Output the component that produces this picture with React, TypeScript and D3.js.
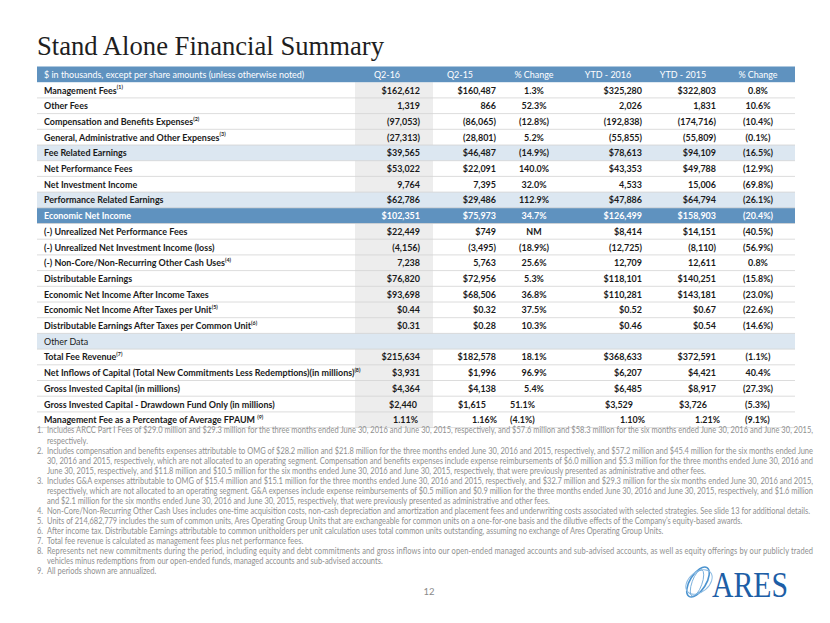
import React from 'react';
import * as d3 from 'd3';

const titleText = 'Stand Alone Financial Summary';
const headerLabel = '$ in thousands, except per share amounts (unless otherwise noted)';
const columnLabels = ['Q2-16', 'Q2-15', '% Change', 'YTD - 2016', 'YTD - 2015', '% Change'];

const rowLabels = [
  'Management Fees',
  'Other Fees',
  'Compensation and Benefits Expenses',
  'General, Administrative and Other Expenses',
  'Fee Related Earnings',
  'Net Performance Fees',
  'Net Investment Income',
  'Performance Related Earnings',
  'Economic Net Income',
  '(-) Unrealized Net Performance Fees',
  '(-) Unrealized Net Investment Income (loss)',
  '(-) Non-Core/Non-Recurring Other Cash Uses',
  'Distributable Earnings',
  'Economic Net Income After Income Taxes',
  'Economic Net Income After Taxes per Unit',
  'Distributable Earnings After Taxes per Common Unit',
  'Other Data',
  'Total Fee Revenue',
  'Net Inflows of Capital (Total New Commitments Less Redemptions)(in millions)',
  'Gross Invested Capital (in millions)',
  'Gross Invested Capital - Drawdown Fund Only (in millions)',
  'Management Fee as a Percentage of Average FPAUM ',
];
const rowNotes = ['1', '', '2', '3', '', '', '', '', '', '', '', '4', '', '', '5', '6', '', '7', '8', '', '', '9'];
const rowKinds = [
  'normal', 'normal', 'normal', 'normal', 'band', 'normal', 'normal', 'band', 'total',
  'normal', 'normal', 'normal', 'normal', 'normal', 'normal', 'normal', 'section',
  'normal', 'normal', 'normal', 'normal', 'normal',
];

const q216 = ['$162,612', '1,319', '(97,053)', '(27,313)', '$39,565', '$53,022', '9,764', '$62,786', '$102,351', '$22,449', '(4,156)', '7,238', '$76,820', '$93,698', '$0.44', '$0.31', '', '$215,634', '$3,931', '$4,364', '$2,440', '1.11%'];
const q215 = ['$160,487', '866', '(86,065)', '(28,801)', '$46,487', '$22,091', '7,395', '$29,486', '$75,973', '$749', '(3,495)', '5,763', '$72,956', '$68,506', '$0.32', '$0.28', '', '$182,578', '$1,996', '$4,138', '$1,615', '1.16%'];
const qChange = ['1.3%', '52.3%', '(12.8%)', '5.2%', '(14.9%)', '140.0%', '32.0%', '112.9%', '34.7%', 'NM', '(18.9%)', '25.6%', '5.3%', '36.8%', '37.5%', '10.3%', '', '18.1%', '96.9%', '5.4%', '51.1%', '(4.1%)'];
const ytd16 = ['$325,280', '2,026', '(192,838)', '(55,855)', '$78,613', '$43,353', '4,533', '$47,886', '$126,499', '$8,414', '(12,725)', '12,709', '$118,101', '$110,281', '$0.52', '$0.46', '', '$368,633', '$6,207', '$6,485', '$3,529', '1.10%'];
const ytd15 = ['$322,803', '1,831', '(174,716)', '(55,809)', '$94,109', '$49,788', '15,006', '$64,794', '$158,903', '$14,151', '(8,110)', '12,611', '$140,251', '$143,181', '$0.67', '$0.54', '', '$372,591', '$4,421', '$8,917', '$3,726', '1.21%'];
const ytdChange = ['0.8%', '10.6%', '(10.4%)', '(0.1%)', '(16.5%)', '(12.9%)', '(69.8%)', '(26.1%)', '(20.4%)', '(40.5%)', '(56.9%)', '0.8%', '(15.8%)', '(23.0%)', '(22.6%)', '(14.6%)', '', '(1.1%)', '40.4%', '(27.3%)', '(5.3%)', '(9.1%)'];

const footnoteLines = [
  { num: '1.', text: 'Includes ARCC Part I Fees of $29.0 million and $29.3 million for the three months ended June 30, 2016 and June 30, 2015, respectively, and $57.6 million and $58.3 million for the six months ended June 30, 2016 and June 30, 2015,', justify: true },
  { num: '', text: 'respectively.', justify: false },
  { num: '2.', text: 'Includes compensation and benefits expenses attributable to OMG of $28.2 million and $21.8 million for the three months ended June 30, 2016 and 2015, respectively, and $57.2 million and $45.4 million for the six months ended June', justify: true },
  { num: '', text: '30, 2016 and 2015, respectively, which are not allocated to an operating segment. Compensation and benefits expenses include expense reimbursements of $6.0 million and $5.3 million for the three months ended June 30, 2016 and', justify: true },
  { num: '', text: 'June 30, 2015, respectively, and $11.8 million and $10.5 million for the six months ended June 30, 2016 and June 30, 2015, respectively, that were previously presented as administrative and other fees.', justify: false },
  { num: '3.', text: 'Includes G&A expenses attributable to OMG of $15.4 million and $15.1 million for the three months ended June 30, 2016 and 2015, respectively, and $32.7 million and $29.3 million for the six months ended June 30, 2016 and 2015,', justify: true },
  { num: '', text: 'respectively, which are not allocated to an operating segment. G&A expenses include expense reimbursements of $0.5 million and $0.9 million for the three months ended June 30, 2016 and June 30, 2015, respectively, and $1.6 million', justify: true },
  { num: '', text: 'and $2.1 million for the six months ended June 30, 2016 and June 30, 2015, respectively, that were previously presented as administrative and other fees.', justify: false },
  { num: '4.', text: 'Non-Core/Non-Recurring Other Cash Uses includes one-time acquisition costs, non-cash depreciation and amortization and placement fees and underwriting costs associated with selected strategies. See slide 13 for additional details.', justify: false },
  { num: '5.', text: 'Units of 214,682,779 includes the sum of common units, Ares Operating Group Units that are exchangeable for common units on a one-for-one basis and the dilutive effects of the Company\u2019s equity-based awards.', justify: false },
  { num: '6.', text: 'After income tax. Distributable Earnings attributable to common unitholders per unit calculation uses total common units outstanding, assuming no exchange of Ares Operating Group Units.', justify: false },
  { num: '7.', text: 'Total fee revenue is calculated as management fees plus net performance fees.', justify: false },
  { num: '8.', text: 'Represents net new commitments during the period, including equity and debt commitments and gross inflows into our open-ended managed accounts and sub-advised accounts, as well as equity offerings by our publicly traded', justify: true },
  { num: '', text: 'vehicles minus redemptions from our open-ended funds, managed accounts and sub-advised accounts.', justify: false },
  { num: '9.', text: 'All periods shown are annualized.', justify: false },
];

const pageNumber = '12';
const logoText = 'ARES';

const FONT = 'Lato, "Open Sans", sans-serif';

function measure(text: string, font: string): number {
  const c = document.createElement('canvas').getContext('2d');
  if (!c) return text.length * 5;
  c.font = font;
  return c.measureText(text).width;
}

export default function App() {
  const W = 830, H = 623;
  const left = 37, right = 795;
  const headerTop = 66.5, rowH = 15.7;
  const tableTop = headerTop + rowH;

  const y = d3.scaleBand<number>().domain(d3.range(rowLabels.length)).range([tableTop, tableTop + rowH * rowLabels.length]);

  const cols = [q216, q215, qChange, ytd16, ytd15, ytdChange];
  const colX = d3.scaleOrdinal<number, number>().domain(d3.range(6)).range([420, 496, 534, 642, 716, 758]);
  const colAnchor = ['end', 'end', 'middle', 'end', 'end', 'middle'];
  const headX = d3.scaleOrdinal<number, number>().domain(d3.range(6)).range([387, 460, 534, 608, 683, 758]);

  // table font: larger glyphs, horizontally condensed (Calibri-like)
  const fs = 10;
  const k = Math.max(0.6, Math.min(1.1, 311 / measure(rowLabels[18], `bold ${fs}px Lato`)));
  // footnote font
  const ffs = 8.6;
  const kf = Math.max(0.6, Math.min(1.1, 765 / measure(footnoteLines[8].text, `${ffs}px Lato`)));

  const rowShift = (r: number, c: number) => {
    if (r === 20) return [-3, -10, 0, -9, -9, 0][c];
    if (r === 21) return [-2, 1, 0, 3, 4, 0][c];
    return 0;
  };
  const isLeftPct = (r: number, c: number) => (r === 20 || r === 21) && (c === 2 || c === 5);
  const rowAnchor = (r: number, c: number) => (isLeftPct(r, c) ? 'start' : colAnchor[c]);
  const rowX = (r: number, c: number) => {
    if (isLeftPct(r, c)) return c === 2 ? 510 : 745;
    return colX(c) + rowShift(r, c);
  };

  const headerBlue = '#5f92bf';
  const lightBlue = '#dce7f1';
  const shade = '#ededed';
  const footTop = 433.5;
  const footStep = 10.04;
  const base = fs * 0.35;

  return (
    <div style={{ position: 'absolute', left: 0, top: 0 }}>
      <svg width={W} height={H} xmlns="http://www.w3.org/2000/svg" style={{ display: 'block', background: '#fff' }}>
        <text x={left} y={55} fontFamily='"Liberation Serif", serif' fontSize={27} fill="#1e1e1e" textLength={347} lengthAdjust="spacingAndGlyphs">{titleText}</text>

        <rect x={355} y={tableTop} width={78} height={rowH * rowLabels.length} fill={shade} />

        {rowKinds.map((kd, i) => (kd === 'band' || kd === 'section' || kd === 'total') ? (
          <rect key={'b' + i} x={left} y={y(i)!} width={right - left} height={y.bandwidth()} fill={kd === 'total' ? headerBlue : lightBlue} />
        ) : null)}

        {d3.range(1, rowLabels.length + 1).map((i) => (
          <line key={'l' + i} x1={left} x2={right} y1={tableTop + rowH * i} y2={tableTop + rowH * i} stroke="#d3d3d3" strokeWidth={0.8} />
        ))}

        <rect x={left} y={headerTop} width={right - left} height={rowH} fill={headerBlue} />

        <g transform={`scale(${k},1)`}>
          <text x={44 / k} y={headerTop + rowH / 2 + base} fontFamily={FONT} fontSize={fs} fill="#fff">{headerLabel}</text>
          {columnLabels.map((c, i) => (
            <text key={'h' + i} x={headX(i) / k} y={headerTop + rowH / 2 + base} fontFamily={FONT} fontSize={fs} fill="#fff" textAnchor="middle">{c}</text>
          ))}

          {rowLabels.map((lab, r) => {
            const cy = y(r)! + y.bandwidth() / 2 + base;
            const kind = rowKinds[r];
            const color = kind === 'total' ? '#fff' : '#1a1a1a';
            const weight = kind === 'section' ? 'normal' : 'bold';
            return (
              <g key={'r' + r}>
                <text x={44 / k} y={cy} fontFamily={FONT} fontSize={fs} fontWeight={weight} fill={color}>
                  {lab}
                  {rowNotes[r] ? <tspan fontSize={fs * 0.6} dy={-fs * 0.42}>{'(' + rowNotes[r] + ')'}</tspan> : null}
                </text>
                {cols.map((col, c) => col[r] ? (
                  <text key={'c' + c} x={rowX(r, c) / k} y={cy} fontFamily={FONT} fontSize={fs} fontWeight="bold" fill={color} textAnchor={rowAnchor(r, c) as any}>{col[r]}</text>
                ) : null)}
              </g>
            );
          })}
        </g>

        <g transform={`scale(${kf},1)`}>
          {footnoteLines.map((l, i) => {
            const yy = footTop + footStep * i;
            return (
              <g key={'f' + i}>
                {l.num ? <text x={37 / kf} y={yy} fontFamily={FONT} fontSize={ffs} fill="#8f8f8f">{l.num}</text> : null}
                <text x={47 / kf} y={yy} fontFamily={FONT} fontSize={ffs} fill="#8f8f8f" {...(l.justify ? { textLength: 766 / kf, lengthAdjust: 'spacing' } : {})}>{l.text}</text>
              </g>
            );
          })}
        </g>

        <text x={429} y={595} fontFamily={FONT} fontSize={9.5} fill="#8a8a8a" textAnchor="middle">{pageNumber}</text>

        <g fill="none">
          <ellipse cx={698} cy={582} rx={17} ry={8} transform="rotate(-58 698 582)" stroke="#4b93cf" strokeWidth={1.6} />
          <ellipse cx={699} cy={582} rx={15} ry={10} transform="rotate(-40 699 582)" stroke="#8cbbe3" strokeWidth={1} />
          <ellipse cx={697} cy={583} rx={14} ry={5} transform="rotate(-70 697 583)" stroke="#6aa6d8" strokeWidth={0.8} />
        </g>
        <text x={712} y={597} fontFamily='"Liberation Serif", serif' fontSize={36} fill="#1d5ea6" textLength={76} lengthAdjust="spacingAndGlyphs">{logoText}</text>
      </svg>
    </div>
  );
}
